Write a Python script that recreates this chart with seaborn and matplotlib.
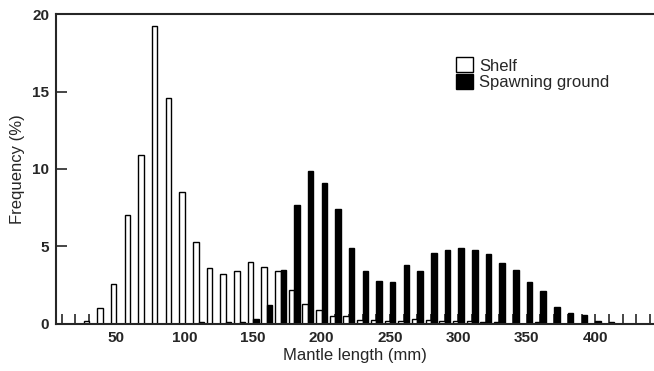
import numpy as np
import pandas as pd
import seaborn as sns
import matplotlib.pyplot as plt
from matplotlib.patches import Patch
from matplotlib.ticker import MultipleLocator

# mantle length classes (mm)
lengths = list(range(10, 450, 10))

shelf = [0, 0, 0.2, 1.0, 2.6, 7.0, 10.9, 19.2, 14.6, 8.5,
         5.3, 3.6, 3.2, 3.4, 4.0, 3.7, 3.4, 2.2, 1.3, 0.9,
         0.5, 0.5, 0.25, 0.25, 0.2, 0.2, 0.3, 0.27, 0.2, 0.2,
         0.2, 0.15, 0.15, 0, 0, 0.1, 0, 0, 0, 0,
         0, 0, 0, 0]

spawning = [0, 0, 0, 0, 0, 0, 0, 0, 0, 0,
            0.1, 0, 0.1, 0.1, 0.3, 1.2, 3.5, 7.7, 9.9, 9.1,
            7.4, 4.9, 3.4, 2.8, 2.7, 3.8, 3.4, 4.6, 4.8, 4.9,
            4.8, 4.5, 3.9, 3.5, 2.7, 2.1, 1.1, 0.7, 0.6, 0.2,
            0.1, 0, 0, 0]

groups = ["Shelf", "Spawning ground"]

df = pd.DataFrame({
    "length": lengths * 2,
    "freq": shelf + spawning,
    "site": [groups[0]] * len(lengths) + [groups[1]] * len(lengths),
})

sns.set_style("ticks")
plt.rcParams['font.family'] = ['Liberation Sans', 'DejaVu Sans']

fig = plt.figure(figsize=(6.54, 3.71), dpi=100)
ax = fig.add_axes([0.086, 0.127, 0.914, 0.835])

sns.barplot(data=df, x="length", y="freq", hue="site", native_scale=True,
            dodge=True, width=0.8, palette=["white", "black"],
            edgecolor="black", linewidth=1, errorbar=None, ax=ax)

ax.set_xlim(6, 443)
ax.set_ylim(0, 20)
ax.xaxis.set_major_locator(MultipleLocator(50))
ax.xaxis.set_minor_locator(MultipleLocator(10))
ax.set_xticks(range(50, 450, 50))
ax.set_yticks([0, 5, 10, 15, 20])
ax.tick_params(axis="x", which="both", direction="in", length=7, width=1.2, pad=5,
               labelsize=11)
ax.tick_params(axis="y", direction="in", length=8, width=1.2, pad=5, labelsize=11)
for lab in ax.get_xticklabels() + ax.get_yticklabels():
    lab.set_fontweight("bold")

sns.despine(ax=ax, top=False, right=True)
for s in ["left", "bottom", "top"]:
    ax.spines[s].set_linewidth(1.5)

ax.set_xlabel("Mantle length (mm)", fontsize=12, labelpad=2)
ax.set_ylabel("Frequency (%)", fontsize=12, labelpad=5)

handles = [Patch(facecolor="white", edgecolor="black", linewidth=1),
           Patch(facecolor="black", edgecolor="black", linewidth=1)]
ax.legend(handles, groups, loc="upper left", bbox_to_anchor=(0.669, 0.86),
          frameon=False, fontsize=12, labelspacing=0, handlelength=1.0,
          handleheight=1.0, handletextpad=0.4, borderpad=0, borderaxespad=0)

fig.savefig("out.png", dpi=100)
